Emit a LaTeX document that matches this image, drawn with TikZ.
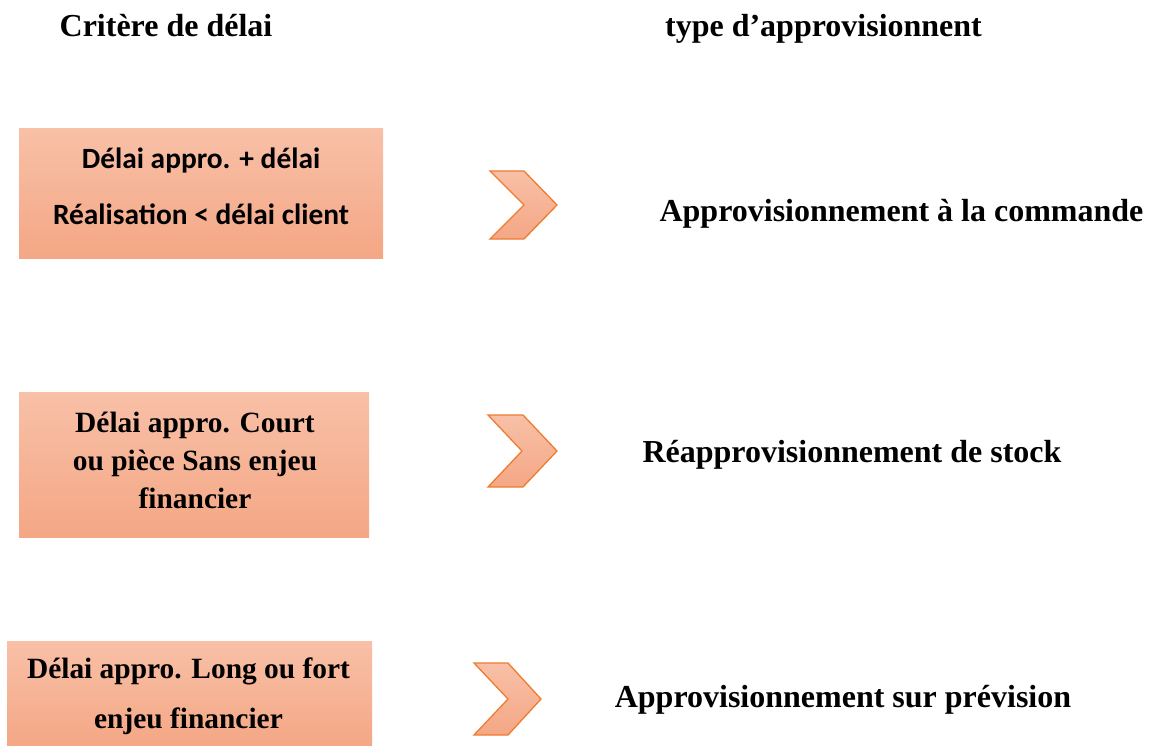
\documentclass[tikz,border=0pt]{standalone}
\usepackage{fontspec}
\setmainfont{Liberation Serif}
\newfontfamily\calib{Carlito}
\definecolor{boxtop}{HTML}{F8C0A7}
\definecolor{boxbot}{HTML}{F4A785}
\definecolor{chevline}{HTML}{ED7D31}
\tikzset{
  critbox/.style={rectangle, inner sep=0pt, top color=boxtop, bottom color=boxbot, draw=none},
  boxtext/.style={anchor=base, align=center, inner sep=0pt, text=black},
  headtext/.style={anchor=base, inner sep=0pt, font=\bfseries\fontsize{32}{38}\selectfont},
  typetext/.style={anchor=base, inner sep=0pt, font=\bfseries\fontsize{32}{38}\selectfont},
  chev/.style={draw=chevline, line width=1.3pt, line join=miter, top color=boxtop, bottom color=boxbot}
}
\begin{document}
\begin{tikzpicture}[x=1pt,y=-1pt]
\useasboundingbox (0,0) rectangle (1150,746);
% headers
\node[headtext] (h1) at (166,37) {Critère de délai};
\node[headtext] (h2) at (823.5,37) {type d’approvisionnent};
% boxes
\node[critbox, minimum width=364pt, minimum height=129pt] (b1) at (201,193.5) {};
\node[critbox, minimum width=350pt, minimum height=145pt] (b2) at (194,465) {};
\node[critbox, minimum width=365pt, minimum height=106pt] (b3) at (189.5,694) {};
\node[boxtext, font=\calib\bfseries\fontsize{29.4}{56}\selectfont] (b1t) at (201,224) {Délai appro. + délai\\Réalisation < délai client};
\node[boxtext, font=\bfseries\fontsize{29.4}{38}\selectfont] (b2t) at (195,508) {Délai appro. Court\\ou pièce Sans enjeu\\financier};
\node[boxtext, font=\bfseries\fontsize{29.4}{50}\selectfont] (b3t) at (188.5,728) {Délai appro. Long ou fort\\enjeu financier};
% chevrons
\draw[chev] (490,171) -- (524,171) -- (557,205) -- (524,239) -- (490,239) -- (524,205) -- cycle;
\draw[chev] (488,415) -- (523,415) -- (557,451) -- (523,487) -- (488,487) -- (522,451) -- cycle;
\draw[chev] (474,663) -- (508,663) -- (541,699) -- (508,735) -- (474,735) -- (508,699) -- cycle;
% types
\node[typetext] (r1) at (901.5,221) {Approvisionnement à la commande};
\node[typetext] (r2) at (852,462) {Réapprovisionnement de stock};
\node[typetext] (r3) at (843,707) {Approvisionnement sur prévision};
\end{tikzpicture}
\end{document}
